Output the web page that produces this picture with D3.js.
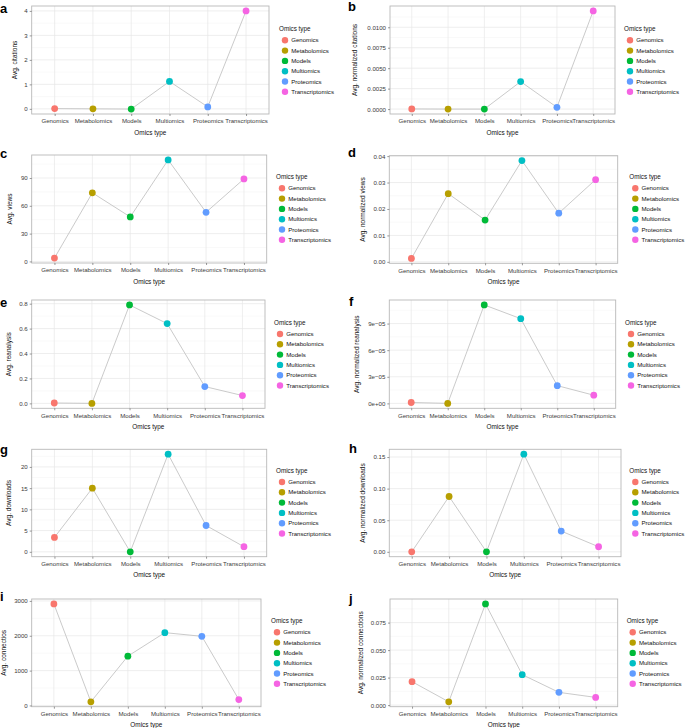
<!DOCTYPE html>
<html><head><meta charset="utf-8">
<script src="https://cdn.jsdelivr.net/npm/d3@7"></script>
<style>body{margin:0;background:#fff}svg{display:block;font-family:"Liberation Sans",Arial,Helvetica,sans-serif}</style>
</head><body>
<svg id="c" width="685" height="728"></svg>
<script>
// ---- data ----
const categories = ["Genomics","Metabolomics","Models","Multiomics","Proteomics","Transcriptomics"];
const colors = ["#F8766D","#B79F00","#00BA38","#00BFC4","#619CFF","#F564E3"];

const citations = [0.01, 0.0, -0.01, 1.12, 0.08, 4.0];
const normCitations = [0.00002, 0.0, 0.0, 0.00336, 0.00022, 0.0120];
const views = [3.6, 74, 48, 109.5, 53, 89];
const normViews = [0.0013, 0.0258, 0.0158, 0.0383, 0.0184, 0.0311];
const reanalysis = [0.003, 0.0, 0.79, 0.64, 0.135, 0.063];
const normReanalysis = [0.000001, 0.0, 0.000111, 0.0000955, 0.0000200, 0.0000092];
const downloads = [3.4, 15.0, 0.0, 23.0, 6.2, 1.2];
const normDownloads = [0.0, 0.0875, 0.0, 0.1545, 0.0328, 0.008];
const connections = [2915, 105, 1415, 2090, 1985, 170];
const normConnections = [0.0213, 0.003, 0.092, 0.0277, 0.0116, 0.007];

const ticksA = [0,1,2,3,4];
const ticksB = [0,0.0025,0.005,0.0075,0.01];
const ticksC = [0,30,60,90];
const ticksD = [0,0.01,0.02,0.03,0.04];
const ticksE = [0,0.2,0.4,0.6,0.8];
const ticksF = [0,0.00003,0.00006,0.00009];
const ticksG = [0,5,10,15,20];
const ticksH = [0,0.05,0.10,0.15];
const ticksI = [0,1000,2000,3000];
const ticksJ = [0,0.025,0.05,0.075];

const labelsA = ["0","1","2","3","4"];
const labelsB = ["0.0000","0.0025","0.0050","0.0075","0.0100"];
const labelsC = ["0","30","60","90"];
const labelsD = ["0.00","0.01","0.02","0.03","0.04"];
const labelsE = ["0.0","0.2","0.4","0.6","0.8"];
const labelsF = ["0e+00","3e\u221205","6e\u221205","9e\u221205"];
const labelsG = ["0","5","10","15","20"];
const labelsH = ["0.00","0.05","0.10","0.15"];
const labelsI = ["0","1000","2000","3000"];
const labelsJ = ["0.000","0.025","0.050","0.075"];

const yTitles = ["Avg. citations","Avg. normalized citations","Avg. views","Avg. normalized views",
  "Avg. reanalysis","Avg. normalized reanalysis","Avg. downloads","Avg. normalized downloads",
  "Avg. connectios","Avg. normalized connections"];
const panelLetters = ["a","b","c","d","e","f","g","h","i","j"];
const xTitle = "Omics type";
const legendTitle = "Omics type";

// ---- layout (positions only) ----
const layout = [
  {L:31.7,R:269,T:6,B:114,lx:279,ly:29,yt:15,px:0,py:13},
  {L:390,R:615,T:6,B:114,lx:624,ly:29,yt:355,px:348,py:11},
  {L:31.7,R:266.7,T:155,B:263,lx:276,ly:177,yt:9.5,px:0,py:158},
  {L:389.3,R:617.7,T:155.7,B:263.3,lx:629.3,ly:177,yt:362.7,px:348,py:157},
  {L:31.7,R:265,T:300,B:408.3,lx:274,ly:322.7,yt:8.3,px:0,py:307},
  {L:389.3,R:615.7,T:300,B:408.3,lx:625,ly:322.7,yt:356.7,px:349,py:306},
  {L:31.7,R:266.7,T:449.3,B:556.7,lx:276,ly:470.7,yt:8.3,px:0,py:454},
  {L:389.3,R:621,T:449.3,B:556.7,lx:629.3,ly:470.7,yt:362.7,px:349,py:453},
  {L:31.7,R:261,T:599,B:706.7,lx:271,ly:621,yt:3.3,px:0,py:601},
  {L:390,R:617.7,T:599,B:706.7,lx:626.7,ly:621,yt:360.7,px:349,py:603}
];

const seriesList = [citations,normCitations,views,normViews,reanalysis,normReanalysis,downloads,normDownloads,connections,normConnections];
const tickList = [ticksA,ticksB,ticksC,ticksD,ticksE,ticksF,ticksG,ticksH,ticksI,ticksJ];
const labelList = [labelsA,labelsB,labelsC,labelsD,labelsE,labelsF,labelsG,labelsH,labelsI,labelsJ];

const svg = d3.select("#c");
const FS = 6.1;
const FF = "Liberation Sans, Arial, sans-serif";

seriesList.forEach((vals, k) => {
  const lo = layout[k];
  const g = svg.append("g").attr("font-family",FF);
  const x = d3.scalePoint().domain(categories).range([lo.L, lo.R]).padding(0.6);
  const mn = d3.min(vals), mx = d3.max(vals), span = mx - mn;
  const y = d3.scaleLinear().domain([mn - 0.05*span, mx + 0.05*span]).range([lo.B, lo.T]);
  const ticks = tickList[k];
  const step = ticks[1]-ticks[0];
  const minor = [];
  for (let i = -1; i < ticks.length; i++) {
    const v = ticks[0] + (i+0.5)*step;
    if (v >= y.domain()[0] && v <= y.domain()[1]) minor.push(v);
  }
  g.append("rect").attr("x",lo.L).attr("y",lo.T).attr("width",lo.R-lo.L).attr("height",lo.B-lo.T).attr("fill","#fff");
  g.selectAll(".mg").data(minor).join("line")
    .attr("x1",lo.L).attr("x2",lo.R).attr("y1",d=>y(d)).attr("y2",d=>y(d))
    .attr("stroke","#f2f2f2").attr("stroke-width",0.5);
  g.selectAll(".yg").data(ticks).join("line")
    .attr("x1",lo.L).attr("x2",lo.R).attr("y1",d=>y(d)).attr("y2",d=>y(d))
    .attr("stroke","#e6e6e6").attr("stroke-width",0.7);
  g.selectAll(".xg").data(categories).join("line")
    .attr("x1",d=>x(d)).attr("x2",d=>x(d)).attr("y1",lo.T).attr("y2",lo.B)
    .attr("stroke","#e6e6e6").attr("stroke-width",0.7);
  const line = d3.line().x((d,i)=>x(categories[i])).y(d=>y(d));
  g.append("path").datum(vals).attr("d",line).attr("fill","none")
    .attr("stroke","#c4c4c4").attr("stroke-width",0.9);
  g.selectAll(".pt").data(vals).join("circle")
    .attr("cx",(d,i)=>x(categories[i])).attr("cy",d=>y(d)).attr("r",3.4)
    .attr("fill",(d,i)=>colors[i]);
  g.append("rect").attr("x",lo.L).attr("y",lo.T).attr("width",lo.R-lo.L).attr("height",lo.B-lo.T)
    .attr("fill","none").attr("stroke","#b8b8b8").attr("stroke-width",0.9);
  const ya = d3.axisLeft(y).tickValues(ticks).tickFormat((d,i)=>labelList[k][i]).tickSize(2).tickPadding(2);
  const yg = g.append("g").attr("transform",`translate(${lo.L},0)`).call(ya);
  yg.select(".domain").remove();
  yg.attr("font-family",FF);
  yg.selectAll("line").attr("stroke","#555").attr("stroke-width",0.6);
  yg.selectAll("text").attr("font-size",FS).attr("fill","#3a3a3a");
  const xa = d3.axisBottom(x).tickSize(2).tickPadding(3);
  const xg = g.append("g").attr("transform",`translate(0,${lo.B})`).call(xa);
  xg.select(".domain").remove();
  xg.attr("font-family",FF);
  xg.selectAll("line").attr("stroke","#555").attr("stroke-width",0.6);
  xg.selectAll("text").attr("font-size",FS).attr("fill","#3a3a3a");
  g.append("text").attr("x",(lo.L+lo.R)/2).attr("y",lo.B+20.5).attr("text-anchor","middle")
    .attr("font-size",FS+0.3).attr("fill","#111").text(xTitle);
  g.append("text").attr("transform",`translate(${lo.yt+2.3},${(lo.T+lo.B)/2}) rotate(-90)`)
    .attr("text-anchor","middle").attr("font-size",FS+0.4).attr("fill","#111").text(yTitles[k]);
  g.append("text").attr("x",lo.px).attr("y",lo.py).attr("font-size",13).attr("font-weight","bold")
    .attr("fill","#000").text(panelLetters[k]);
  const lg = g.append("g").attr("transform",`translate(${lo.lx},${lo.ly})`);
  lg.append("text").attr("x",0).attr("y",2.2).attr("font-size",FS+0.2).attr("fill","#111").text(legendTitle);
  categories.forEach((c,i)=>{
    const yy = 11.3 + i*10.3;
    lg.append("circle").attr("cx",6).attr("cy",yy).attr("r",3.2).attr("fill",colors[i]);
    lg.append("text").attr("x",12.2).attr("y",yy+2.1).attr("font-size",FS).attr("fill","#111").text(c);
  });
});
</script>
</body></html>
